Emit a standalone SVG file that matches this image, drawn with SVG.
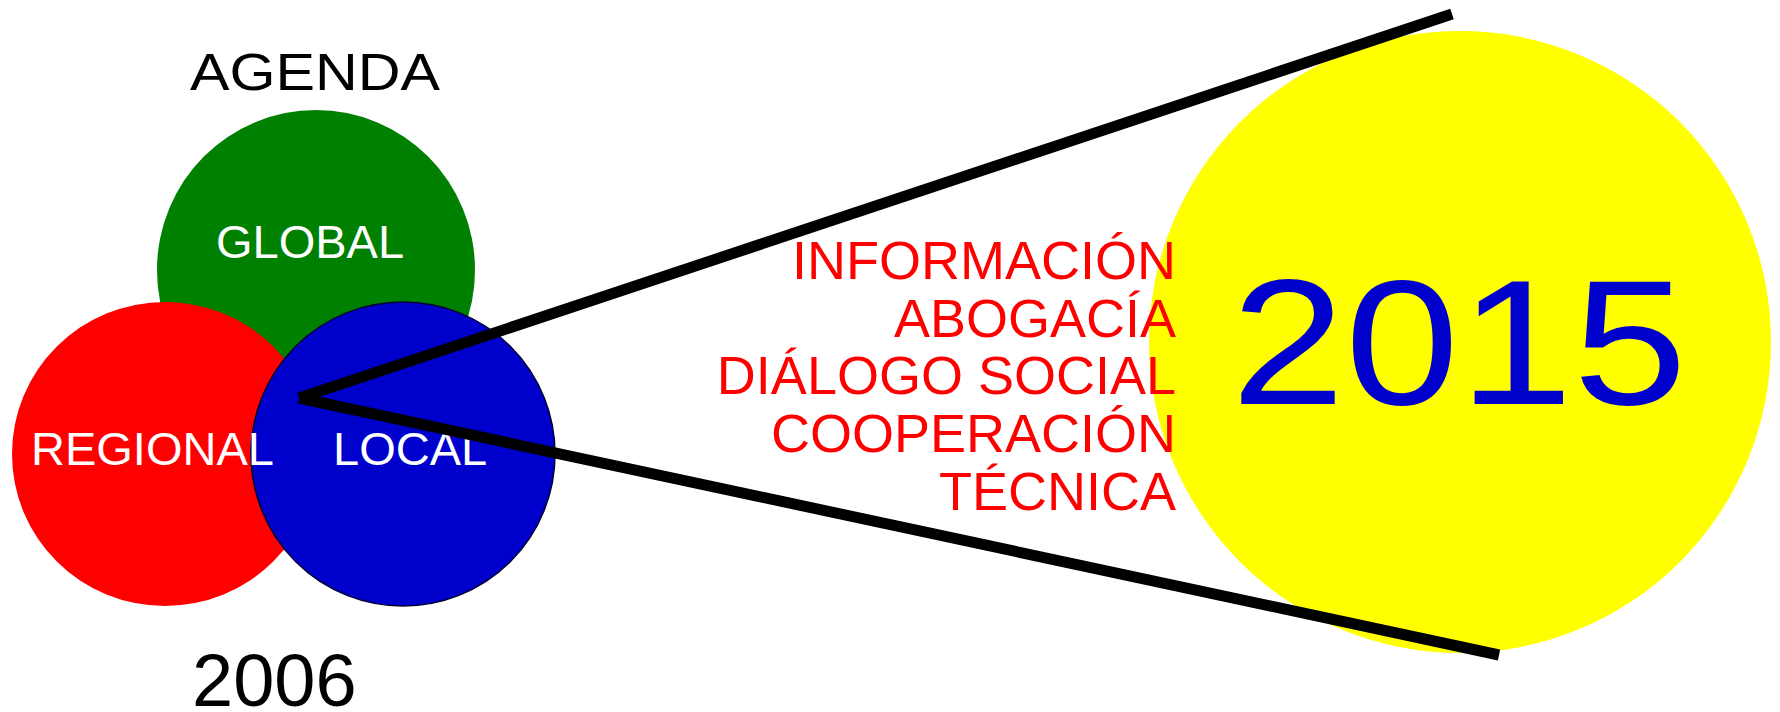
<svg xmlns="http://www.w3.org/2000/svg" width="1780" height="712" viewBox="0 0 1780 712">
<style>
text{font-family:"Liberation Sans",Arial,sans-serif}
.w{fill:#FFFFFF;font-size:47px}
.k{fill:#000000}
.r{fill:#FF0000;font-size:54px;text-anchor:end}
.big{fill:#0000CC;font-size:178px}
.ln{stroke:#000000;stroke-width:11;fill:none;stroke-linecap:butt}
</style>
<rect width="1780" height="712" fill="#FFFFFF"/>
<g id="title"><text class="k" x="190" y="90" font-size="52" textLength="250" lengthAdjust="spacingAndGlyphs">AGENDA</text></g>
<g id="year2006"><text class="k" x="192" y="706" font-size="74">2006</text></g>
<g id="global"><ellipse cx="316" cy="270" rx="159" ry="160" fill="#008000"/><text class="w" x="310" y="258" text-anchor="middle">GLOBAL</text></g>
<g id="regional"><ellipse cx="165" cy="454" rx="153" ry="152" fill="#FF0000"/></g>
<g id="local"><ellipse cx="403" cy="454" rx="152" ry="152" fill="#0000CC" stroke="#000033" stroke-width="1.5"/><text class="w" x="333" y="465">LOCAL</text></g>
<g id="regional-label"><text class="w" x="31" y="465">REGIONAL</text></g>
<g id="goal"><circle cx="1460" cy="342" r="311" fill="#FFFF00"/><text class="big" x="1231" y="404" textLength="456" lengthAdjust="spacingAndGlyphs">2015</text></g>
<g id="connectors">
<line class="ln" x1="299" y1="398" x2="1452" y2="14"/>
<line class="ln" x1="299" y1="398" x2="1499" y2="655"/>
</g>
<g id="actions">
<text class="r" x="1176" y="279">INFORMACIÓN</text>
<text class="r" x="1176" y="337">ABOGACÍA</text>
<text class="r" x="1176" y="394">DIÁLOGO SOCIAL</text>
<text class="r" x="1176" y="452">COOPERACIÓN</text>
<text class="r" x="1176" y="510">TÉCNICA</text>
</g>
</svg>
